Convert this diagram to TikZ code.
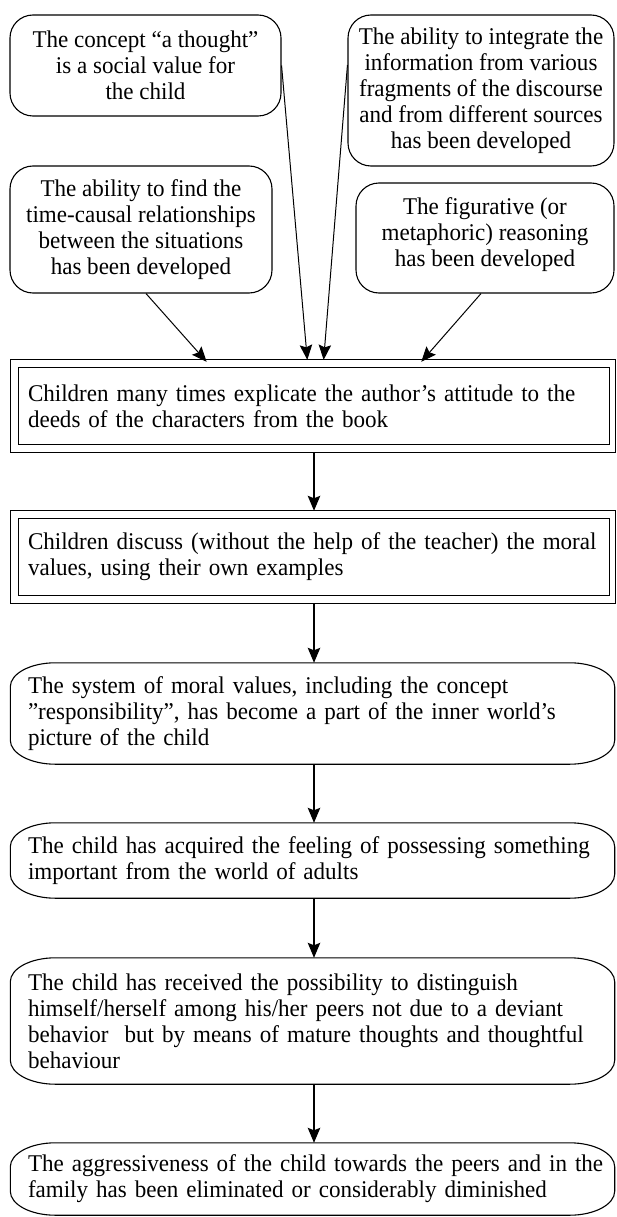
\documentclass[tikz,border=0pt]{standalone}
\usepackage{fontspec}
\setmainfont{Liberation Serif}[FakeStretch=0.96]
\usetikzlibrary{arrows.meta,calc}
\newcommand{\ff}{\fontsize{24}{26}\selectfont}
\newcommand{\Lq}[1]{\mbox{#1}}
\newcommand{\ovalframe}[1]{%
  \draw[frame] ([xshift=45pt]#1.north west) -- ([xshift=-45pt]#1.north east)
    arc[start angle=90,end angle=0,x radius=45pt,y radius=24pt]
    -- ([yshift=24pt]#1.south east)
    arc[start angle=0,end angle=-90,x radius=45pt,y radius=24pt]
    -- ([xshift=45pt]#1.south west)
    arc[start angle=-90,end angle=-180,x radius=45pt,y radius=24pt]
    -- ([yshift=-24pt]#1.north west)
    arc[start angle=180,end angle=90,x radius=45pt,y radius=24pt] -- cycle;}
\newcommand{\dblframe}[1]{%
  \draw[frame] (#1.north west) rectangle (#1.south east);
  \draw[frame] ([shift={(-8pt,8pt)}]#1.north west) rectangle ([shift={(6.5pt,-8.5pt)}]#1.south east);}
\begin{document}
\begin{tikzpicture}[x=1pt,y=-1pt,
  frame/.style={line width=1.1pt, draw=black},
  topbox/.style={draw, line width=1.1pt, rounded corners=23pt, align=center, font=\ff, inner sep=0pt},
  dblbox/.style={align=left, text width=572pt, inner xsep=9pt, inner ysep=0pt, font=\ff, minimum width=590pt},
  ovbox/.style={align=left, text width=569pt, inner xsep=17.5pt, inner ysep=0pt, font=\ff, minimum width=604pt},
  tip/.style={-{Stealth[length=15pt,width=12.5pt,inset=2.5pt]}},
  tarr/.style={line width=1pt, tip, shorten >=8pt},
  varr/.style={line width=1.3pt, tip}
]
\useasboundingbox (0,0) rectangle (616,1217);

\node[topbox, minimum width=271pt, minimum height=101pt] (A) at (145.5,65.5)
  {The concept “a thought”\\is a social value for\\the child};
\node[topbox, minimum width=266pt, minimum height=151pt] (B) at (481,90.5)
  {The ability to integrate the\\information from various\\fragments of the discourse\\and from different sources\\has been developed};
\node[topbox, minimum width=262pt, minimum height=127pt] (C) at (141,229.5)
  {The ability to find the\\time-causal relationships\\between the situations\\has been developed};
\node[topbox, minimum width=258pt, minimum height=110pt] (D) at (485,238)
  {The figurative (or\\metaphoric) reasoning\\has been developed\\[-14pt]};

\node[dblbox, minimum height=76pt] (E) at (314,406)
  {\Lq{Children many times explicate the author’s attitude to the}\\deeds of the characters from the book};
\node[dblbox, minimum height=76pt] (F) at (314,557)
  {\Lq{Children discuss (without the help of the teacher) the moral}\\values, using their own examples};
\dblframe{E}
\dblframe{F}

\node[ovbox, minimum height=101pt] (G) at (312.5,713.5)
  {\Lq{The system of moral values, including the concept}\\\Lq{”responsibility”, has become a part of the inner world’s}\\picture of the child};
\node[ovbox, minimum height=75pt] (H) at (312.5,860.5)
  {\Lq{The child has acquired the feeling of possessing something}\\important from the world of adults};
\node[ovbox, minimum height=126pt] (I) at (312.5,1021)
  {\Lq{The child has received the possibility to distinguish}\\\Lq{himself/herself among his/her peers not due to a deviant}\\\Lq{behavior~ but by means of mature thoughts and thoughtful}\\behaviour};
\node[ovbox, minimum height=72pt] (J) at (312.5,1179)
  {\Lq{The aggressiveness of the child towards the peers and in the}\\family has been eliminated or considerably diminished};
\ovalframe{G}
\ovalframe{H}
\ovalframe{I}
\ovalframe{J}

\draw[tarr] (A.east) -- ([xshift=-6pt]E.north);
\draw[tarr] ([yshift=25.5pt]B.west) -- ([xshift=9pt]E.north);
\draw[tarr] ([xshift=5pt]C.south) -- ([xshift=-102pt]E.north);
\draw[tarr] ([xshift=-4pt]D.south) -- ([xshift=102pt]E.north);

\draw[varr, shorten <=8.5pt, shorten >=8pt] (E.south) -- (F.north);
\draw[varr, shorten <=8.5pt] (F.south) -- (F.south |- G.north);
\draw[varr] (F.south |- G.south) -- (F.south |- H.north);
\draw[varr] (F.south |- H.south) -- (F.south |- I.north);
\draw[varr] (F.south |- I.south) -- (F.south |- J.north);
\end{tikzpicture}
\end{document}
